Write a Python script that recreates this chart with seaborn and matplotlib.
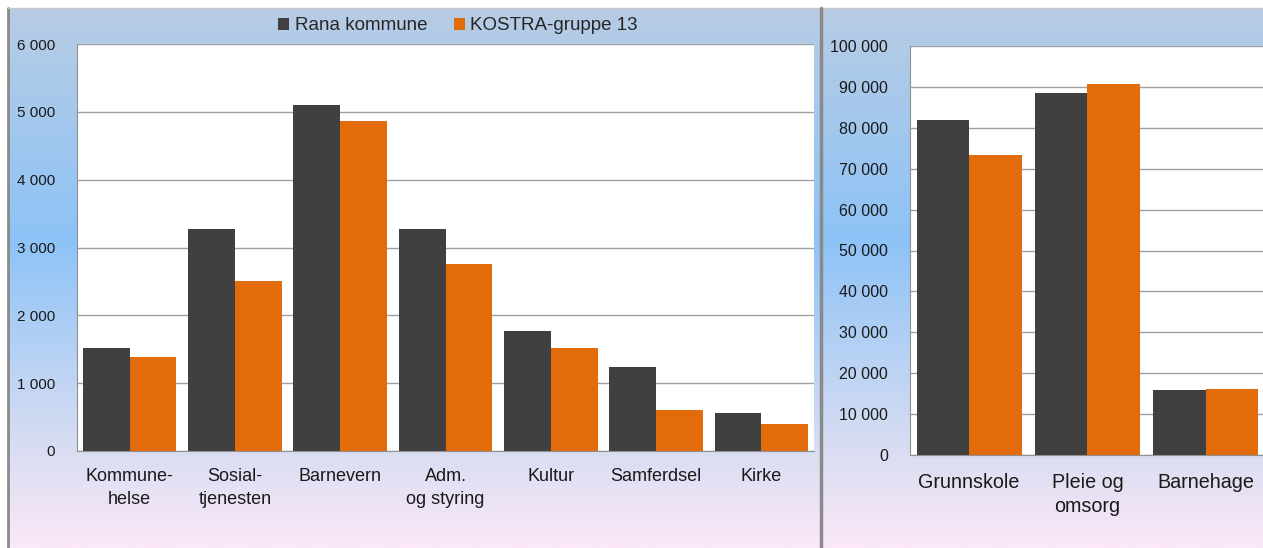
import numpy as np
import pandas as pd
import matplotlib
matplotlib.use("Agg")
import matplotlib.pyplot as plt
from matplotlib.ticker import FuncFormatter, FixedLocator
import seaborn as sns

serier = ["Rana kommune", "KOSTRA-gruppe 13"]
farger = ["#404040", "#e36c0a"]

# venstre panel
omrader_1 = ["Kommune-\nhelse", "Sosial-\ntjenesten", "Barnevern", "Adm.\nog styring",
             "Kultur", "Samferdsel", "Kirke"]
rana_1 = [1520, 3275, 5100, 3275, 1770, 1240, 560]
kostra_1 = [1390, 2510, 4865, 2760, 1520, 605, 400]

# høyre panel
omrader_2 = ["Grunnskole", "Pleie og\nomsorg", "Barnehage"]
rana_2 = [82000, 88500, 15900]
kostra_2 = [73400, 90700, 16100]


def lag_df(omrader, rana, kostra):
    return pd.DataFrame({
        "Område": omrader * 2,
        "Kroner": rana + kostra,
        "Serie": [serier[0]] * len(omrader) + [serier[1]] * len(omrader),
    })


df1 = lag_df(omrader_1, rana_1, kostra_1)
df2 = lag_df(omrader_2, rana_2, kostra_2)

sns.set_style("white")
plt.rcParams["font.family"] = ["Liberation Sans", "DejaVu Sans"]

W, H = 1263, 548
fig = plt.figure(figsize=(W / 100, H / 100), dpi=100)

# bakgrunn med gradient
bg = fig.add_axes([0, 0, 1, 1], zorder=-10)
bg.set_xlim(0, W)
bg.set_ylim(H, 0)
bg.axis("off")
stopp_y = [8, 240, 450, 548]
stopp_c = ["#b8cce4", "#8dc3f7", "#d9ddf2", "#fbe8f8"]
rgb = np.array([matplotlib.colors.to_rgb(c) for c in stopp_c])
ys = np.linspace(8, 548, 300)
grad = np.stack([np.interp(ys, stopp_y, rgb[:, i]) for i in range(3)], axis=1)
bg.imshow(grad[:, None, :], extent=[8, W, H, 8], aspect="auto", interpolation="bilinear")
bg.plot([8, 8], [8, H], color="#8a8a8a", lw=2)
bg.plot([8, W], [8, 8], color="#c8c8c8", lw=1)
bg.plot([821, 821], [8, H], color="#8a8a8a", lw=2.5)


def px_axes(x0, x1, ytop, ybot):
    return fig.add_axes([x0 / W, 1 - ybot / H, (x1 - x0) / W, (ybot - ytop) / H])


fmt = FuncFormatter(lambda v, p: f"{int(v):,}".replace(",", " "))


def tegn(ax, df, omrader, ymax, ystep, xsize, ysize, xpad, lsp):
    sns.barplot(data=df, x="Område", y="Kroner", hue="Serie", palette=farger,
                width=0.89, saturation=1, linewidth=0, ax=ax)
    ax.set_facecolor("white")
    ax.set_ylim(0, ymax)
    ax.set_xlim(-0.5, len(omrader) - 0.5)
    ax.set_yticks(np.arange(0, ymax + 1, ystep))
    ax.yaxis.set_major_formatter(fmt)
    ax.grid(axis="y", color="#a0a0a0", lw=1)
    ax.set_axisbelow(True)
    for s in ["top", "right"]:
        ax.spines[s].set_visible(False)
    for s in ["left", "bottom"]:
        ax.spines[s].set_color("#909090")
    ax.tick_params(axis="y", length=6, color="#909090", width=1, labelsize=ysize, pad=10)
    ax.tick_params(axis="x", length=0, labelsize=xsize, pad=xpad)
    ax.xaxis.set_minor_locator(FixedLocator(np.arange(-0.5, len(omrader), 1)))
    ax.tick_params(axis="x", which="minor", length=6, color="#909090", width=1)
    ax.set_xlabel("")
    ax.set_ylabel("")
    for t in ax.get_xticklabels():
        t.set_linespacing(lsp)
    for t in ax.get_xticklabels() + ax.get_yticklabels():
        t.set_color("#1a1a1a")


ax1 = px_axes(77, 814, 44, 451)
tegn(ax1, df1, omrader_1, 6000, 1000, 13, 11, 12, 1.45)
handles, labels = ax1.get_legend_handles_labels()
ax1.get_legend().remove()

ax2 = px_axes(910, 1265, 46, 455)
tegn(ax2, df2, omrader_2, 100000, 10000, 14.2, 11.5, 13, 1.35)
ax2.get_legend().remove()

fig.legend(handles, labels, loc="center", bbox_to_anchor=(458 / W, 1 - 26 / H),
           ncol=2, frameon=False, fontsize=13.5, handlelength=0.6, handleheight=0.6,
           handletextpad=0.3, columnspacing=1.4)

fig.savefig("out.png", dpi=100)
